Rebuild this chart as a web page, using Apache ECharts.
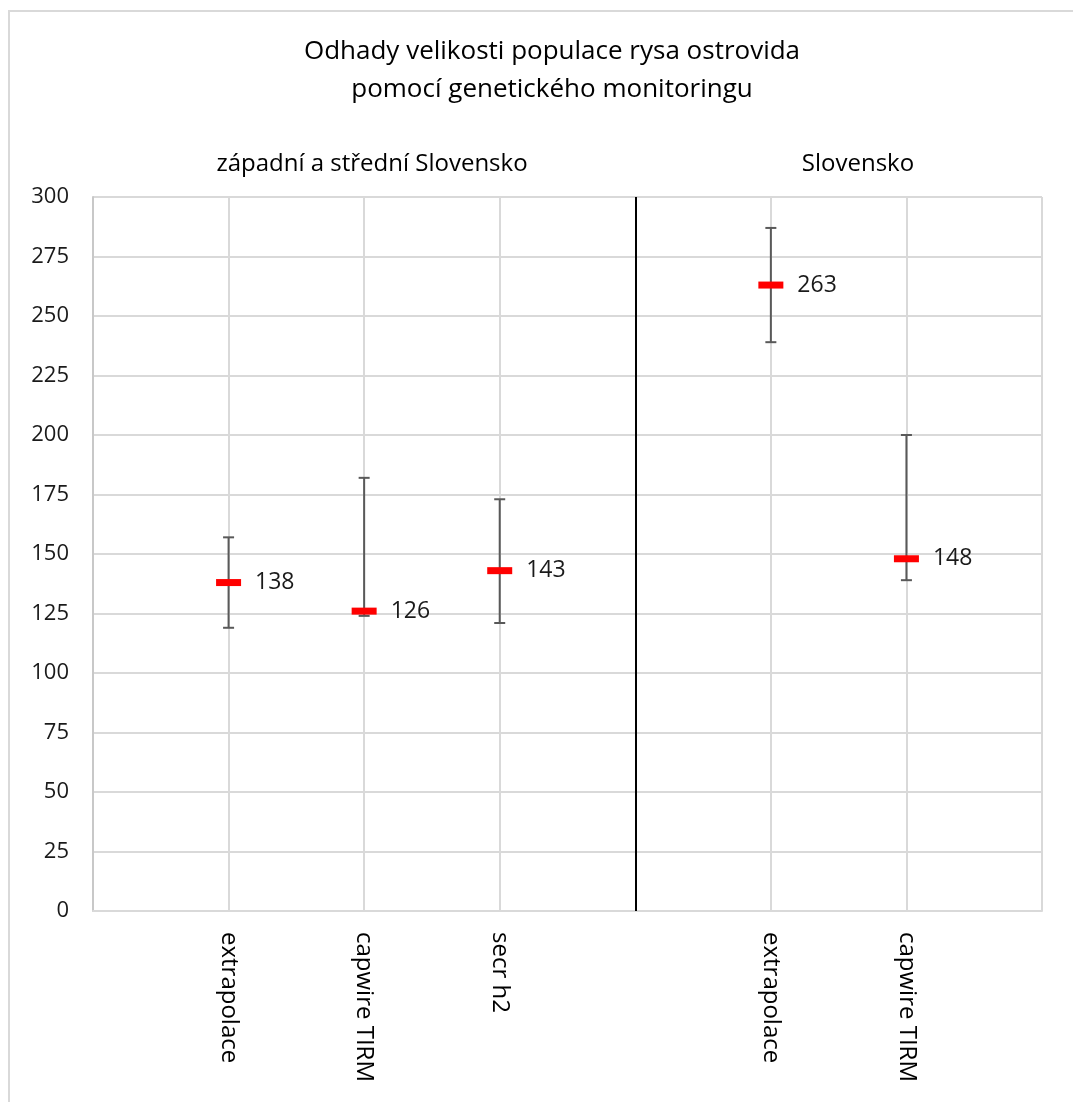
<!DOCTYPE html>
<html><head><meta charset="utf-8">
<script src="https://cdn.jsdelivr.net/npm/echarts@6/dist/echarts.min.js"></script>
<style>html,body{margin:0;padding:0;background:#fff}#c{width:1073px;height:1102px}</style>
</head><body><div id="c"></div>
<script>
var categories = ['', 'extrapolace', 'capwire TIRM', 'secr h2', '', 'extrapolace', 'capwire TIRM', ''];
var estimates = [null, 138, 126, 143, null, 263, 148, null];
var lower = [null, 119, 124, 121, null, 239, 139, null];
var upper = [null, 157, 182, 173, null, 287, 200, null];
var yTicks = {min: 0, max: 300, interval: 25};
var groupNames = ['západní a střední Slovensko', 'Slovensko'];
var dividerIndex = 4;

var FONT = 'Open Sans';
var errData = [];
var ptData = [];
for (var i = 0; i < categories.length; i++) {
  if (estimates[i] != null) {
    errData.push([i, lower[i], upper[i]]);
    ptData.push([i, estimates[i]]);
  }
}

var chart = echarts.init(document.getElementById('c'), null, {renderer: 'canvas'});
chart.setOption({
  animation: false,
  backgroundColor: '#fff',
  textStyle: {fontFamily: FONT},
  title: [
    {text: 'Odhady velikosti populace rysa ostrovida\npomocí genetického monitoringu',
     left: 547, top: 28, textAlign: 'center',
     textStyle: {fontFamily: FONT, fontSize: 26, fontWeight: 'normal', color: '#000', lineHeight: 38}},
    {text: groupNames[0], left: 367, top: 147, textAlign: 'center',
     textStyle: {fontFamily: FONT, fontSize: 24, fontWeight: 'normal', color: '#000'}},
    {text: groupNames[1], left: 853, top: 147, textAlign: 'center',
     textStyle: {fontFamily: FONT, fontSize: 24, fontWeight: 'normal', color: '#000'}}
  ],
  graphic: [{
    type: 'rect', shape: {x: 9, y: 11, width: 1100, height: 1100},
    style: {fill: 'none', stroke: '#d9d9d9', lineWidth: 2}, silent: true, z: -1
  }],
  grid: {left: 93, right: 31, top: 197, bottom: 191, containLabel: false},
  xAxis: {
    type: 'category', data: categories, boundaryGap: false,
    axisLine: {show: true, lineStyle: {color: '#d9d9d9', width: 2}},
    axisTick: {show: false},
    axisLabel: {rotate: -90, margin: 21, fontSize: 24, color: '#000', fontFamily: FONT, interval: 0},
    splitLine: {show: true, lineStyle: {color: '#d9d9d9', width: 2}}
  },
  yAxis: {
    type: 'value', min: yTicks.min, max: yTicks.max, interval: yTicks.interval,
    axisLine: {show: true, lineStyle: {color: '#c8c8c8', width: 2}},
    axisTick: {show: false},
    axisLabel: {fontSize: 22, color: '#1a1a1a', margin: 24, fontFamily: FONT},
    splitLine: {show: true, lineStyle: {color: '#d9d9d9', width: 2}}
  },
  series: [
    {
      type: 'custom',
      data: errData,
      z: 3,
      renderItem: function (params, api) {
        var x = api.value(0);
        var lo = api.coord([x, api.value(1)]);
        var hi = api.coord([x, api.value(2)]);
        var cw = 5.5;
        var st = {stroke: '#595959', lineWidth: 2, fill: 'none'};
        return {type: 'group', children: [
          {type: 'line', shape: {x1: lo[0], y1: lo[1], x2: hi[0], y2: hi[1]}, style: st},
          {type: 'line', shape: {x1: lo[0] - cw, y1: lo[1], x2: lo[0] + cw, y2: lo[1]}, style: st},
          {type: 'line', shape: {x1: hi[0] - cw, y1: hi[1], x2: hi[0] + cw, y2: hi[1]}, style: st}
        ]};
      }
    },
    {
      type: 'scatter',
      data: ptData,
      z: 5,
      symbol: 'rect',
      symbolSize: [25, 7],
      itemStyle: {color: '#ff0000', opacity: 1},
      label: {show: true, position: 'right', distance: 14, fontSize: 23, color: '#1a1a1a', fontFamily: FONT,
              formatter: function (p) { return p.value[1]; }},
      markLine: {
        silent: true, symbol: 'none', label: {show: false},
        lineStyle: {color: '#000', width: 2, type: 'solid', opacity: 1},
        data: [[{coord: [dividerIndex, yTicks.max]}, {coord: [dividerIndex, yTicks.min]}]]
      }
    }
  ]
});
</script></body></html>
